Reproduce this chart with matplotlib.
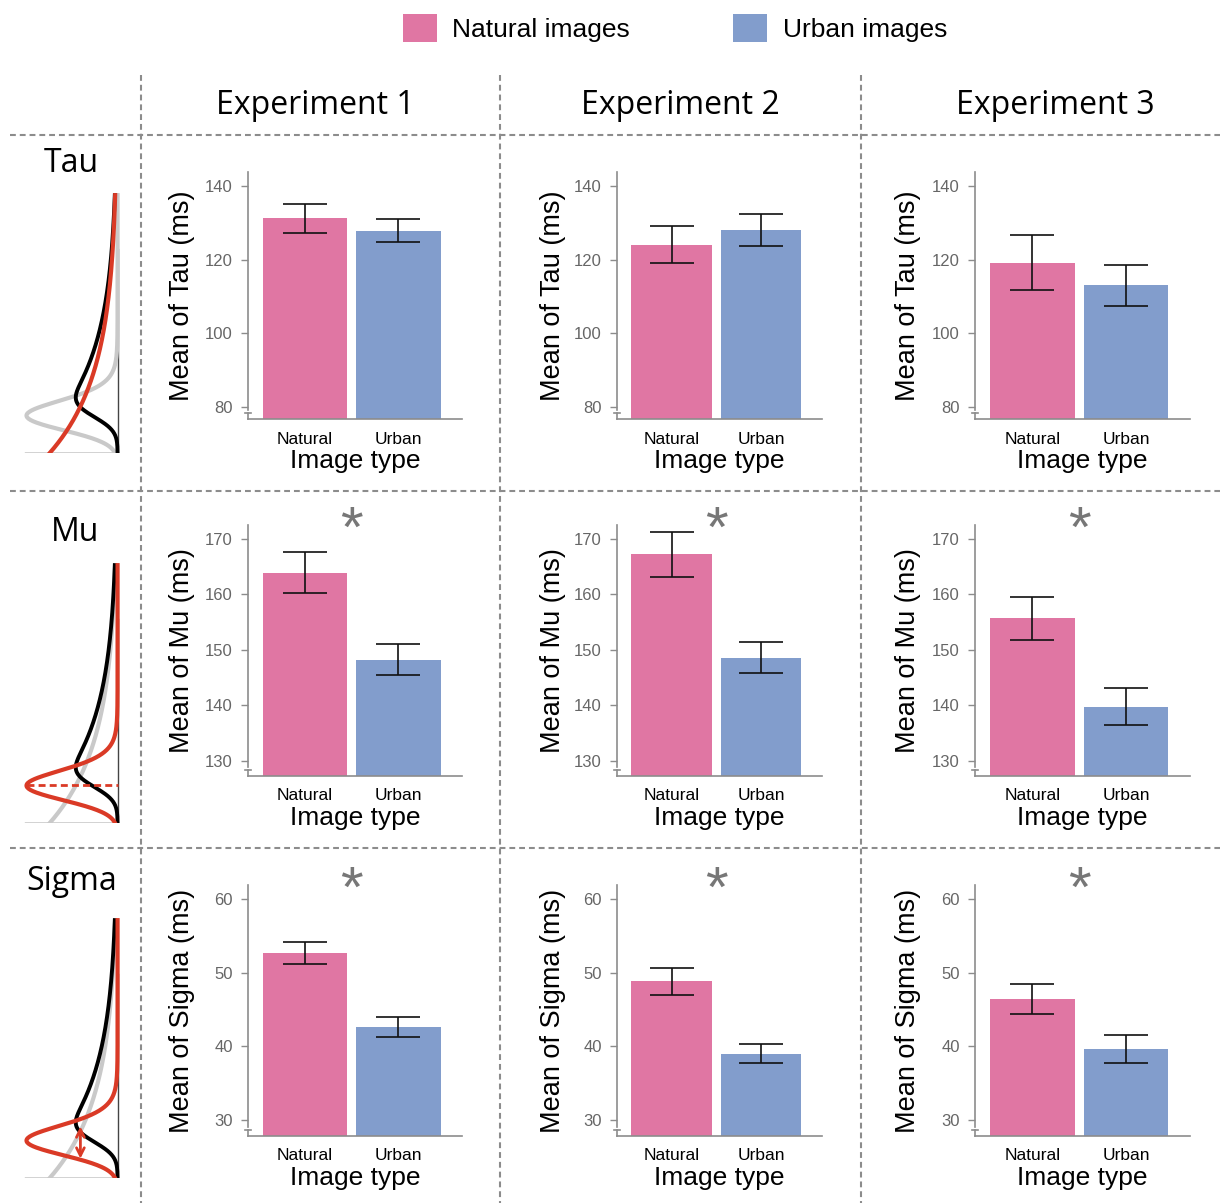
import math
import numpy as np
import matplotlib
matplotlib.use('Agg')
from matplotlib import pyplot as plt
from matplotlib.lines import Line2D
from matplotlib.patches import Patch

# data (ms)
experiments = ['Experiment 1', 'Experiment 2', 'Experiment 3']
params = ['Tau', 'Mu', 'Sigma']
image_types = ['Natural', 'Urban']

tau_natural = [131.2, 124.0, 119.2]
tau_natural_err = [4.0, 5.0, 7.5]
tau_urban = [127.8, 128.0, 113.0]
tau_urban_err = [3.1, 4.3, 5.5]

mu_natural = [163.9, 167.2, 155.7]
mu_natural_err = [3.7, 4.0, 3.9]
mu_urban = [148.2, 148.6, 139.8]
mu_urban_err = [2.8, 2.8, 3.3]

sigma_natural = [52.6, 48.8, 46.4]
sigma_natural_err = [1.5, 1.8, 2.0]
sigma_urban = [42.6, 39.0, 39.6]
sigma_urban_err = [1.3, 1.3, 1.9]

significant = [[False, False, False], [True, True, True], [True, True, True]]

row_ticks = [[80, 100, 120, 140], [130, 140, 150, 160, 170], [30, 40, 50, 60]]
row_ylim = [(76.7, 143.8), (127.3, 172.5), (27.8, 61.9)]

means = [(tau_natural, tau_urban), (mu_natural, mu_urban), (sigma_natural, sigma_urban)]
errs = [(tau_natural_err, tau_urban_err), (mu_natural_err, mu_urban_err),
        (sigma_natural_err, sigma_urban_err)]

# schematic ex-Gaussian shapes for the left column (mu, sigma, tau, peak width)
black_curve = (1.45, 0.45, 2.8, 0.45)
narrow_curve = (1.15, 0.5, 0.4, 0.98)
exp_curve = (-1.2, 0.3, 3.0, 0.73)
row_red = [exp_curve, narrow_curve, narrow_curve]
row_gray = [narrow_curve, exp_curve, exp_curve]

pink = '#E076A3'
blue = '#829DCC'
red = '#DA3A26'
axis_gray = '#8c8c8c'

W, H = 1220, 1203
fig = plt.figure(figsize=(W / 100, H / 100), dpi=100)
plt.rcParams['font.family'] = ['Liberation Sans', 'DejaVu Sans']


def fbox(x0, y0, x1, y1):
    # pixel box (top-left origin) -> figure fraction rect
    return [x0 / W, 1 - y1 / H, (x1 - x0) / W, (y1 - y0) / H]


def exgauss(t, mu, sigma, tau):
    out = []
    for v in t:
        a = (2 * mu + sigma ** 2 / tau - 2 * v) / (2 * tau)
        b = (mu + sigma ** 2 / tau - v) / (math.sqrt(2) * sigma)
        out.append(1 / (2 * tau) * math.exp(min(a, 50)) * math.erfc(b))
    return np.array(out)


def shape(t, p):
    d = exgauss(t, p[0], p[1], p[2])
    return d / d.max() * p[3]


# dashed separators
for x in [141, 500, 861]:
    fig.add_artist(Line2D([x / W, x / W], [1 - 75 / H, 0], transform=fig.transFigure,
                          color=axis_gray, lw=1.5, dashes=[2.8, 1.9]))
for y in [135, 491, 848]:
    fig.add_artist(Line2D([10 / W, 1], [1 - y / H, 1 - y / H], transform=fig.transFigure,
                          color=axis_gray, lw=1.5, dashes=[2.8, 1.9]))

header_font = ['Open Sans', 'DejaVu Sans']
for name, x in zip(experiments, [315, 680, 1055]):
    fig.text(x / W, 1 - 105 / H, name, ha='center', va='center', fontsize=23,
             family=header_font)
for name, (x, y) in zip(params, [(71, 163), (75, 532), (72, 882)]):
    fig.text(x / W, 1 - y / H, name, ha='center', va='center', fontsize=23,
             family=header_font)

# legend
handles = [Patch(facecolor=pink), Patch(facecolor=blue)]
fig.legend(handles, ['Natural images', 'Urban images'], loc='center',
           bbox_to_anchor=(675 / W, 1 - 28 / H), ncol=2, frameon=False, fontsize=19,
           handlelength=1.29, handleheight=1.25, handletextpad=0.6, columnspacing=3.9)

# left column illustrations
ill_bottom = [453, 823, 1178]
t = np.linspace(0, 10, 400)
for r in range(3):
    b = ill_bottom[r]
    ax = fig.add_axes(fbox(20, b - 263, 125, b))
    ax.set_xlim(-1.05, 0.08)
    ax.set_ylim(0, 10.2)
    ax.axis('off')
    ax.plot([-1.0, 0.0], [0, 0], color='#222222', lw=1.0)
    ax.plot([0.0, 0.0], [0, 7.9], color='#444444', lw=1.0)
    ax.plot(-shape(t, row_gray[r]), t, color='#c9c9c9', lw=3)
    ax.plot(-shape(t, black_curve), t, color='black', lw=2.8)
    ax.plot(-shape(t, row_red[r]), t, color=red, lw=3)
    if r == 1:
        ax.plot([-0.98, 0.0], [1.47, 1.47], color=red, lw=2, dashes=[2.5, 1.5])
    if r == 2:
        ax.annotate('', xy=(-0.4, 2.0), xytext=(-0.4, 0.75),
                    arrowprops=dict(arrowstyle='<->', color=red, lw=2,
                                    mutation_scale=14, shrinkA=0, shrinkB=0))

# bar panels
col_left = [248, 617, 975]
col_right = [462, 822, 1190]
row_bottom = [419, 776, 1136]
row_top = [172, 525, 885]
xs = np.arange(len(image_types))
for r in range(3):
    for c in range(3):
        ax = fig.add_axes(fbox(col_left[c], row_top[r], col_right[c], row_bottom[r]))
        vals = [means[r][0][c], means[r][1][c]]
        ers = [errs[r][0][c], errs[r][1][c]]
        ax.bar(xs, vals, width=0.9, color=[pink, blue], edgecolor='none')
        ax.errorbar(xs, vals, yerr=ers, fmt='none', ecolor='#111111', elinewidth=1.2,
                    capsize=15.5, capthick=1.2)
        y0, y1 = row_ylim[r]
        ax.set_ylim(y0, y1)
        ax.set_xlim(-0.61, 1.68)
        ax.set_yticks(row_ticks[r])
        ax.set_xticks(xs)
        ax.set_xticklabels(image_types, fontsize=12.5)
        ax.tick_params(axis='x', length=0, pad=9)
        ax.tick_params(axis='y', length=5, width=1, color=axis_gray, labelcolor='#666666',
                       labelsize=12, pad=6)
        for s in ['top', 'right']:
            ax.spines[s].set_visible(False)
        for s in ['left', 'bottom']:
            ax.spines[s].set_color(axis_gray)
            ax.spines[s].set_linewidth(1.2)
        span = y1 - y0
        ax.spines['left'].set_bounds(y0 + 0.036 * span, y1)
        # axis break mark
        ax.plot([-0.013, 0.013], [0.024, 0.024], transform=ax.transAxes, color=axis_gray,
                lw=1.2, clip_on=False)
        ax.plot([0, 0], [0, 0.024], transform=ax.transAxes, color=axis_gray,
                lw=1.2, clip_on=False)
        ax.set_ylabel('Mean of %s (ms)' % params[r], fontsize=19.5, va='center')
        ax.yaxis.set_label_coords(-0.31, 0.5)
        ax.set_xlabel('Image type', fontsize=19, labelpad=2)
        if significant[r][c]:
            ax.text(0.5, 0.975, '*', transform=ax.get_xaxis_transform(), ha='center',
                    va='center', fontsize=42, color='#777777')

fig.savefig('out.png', dpi=100)
